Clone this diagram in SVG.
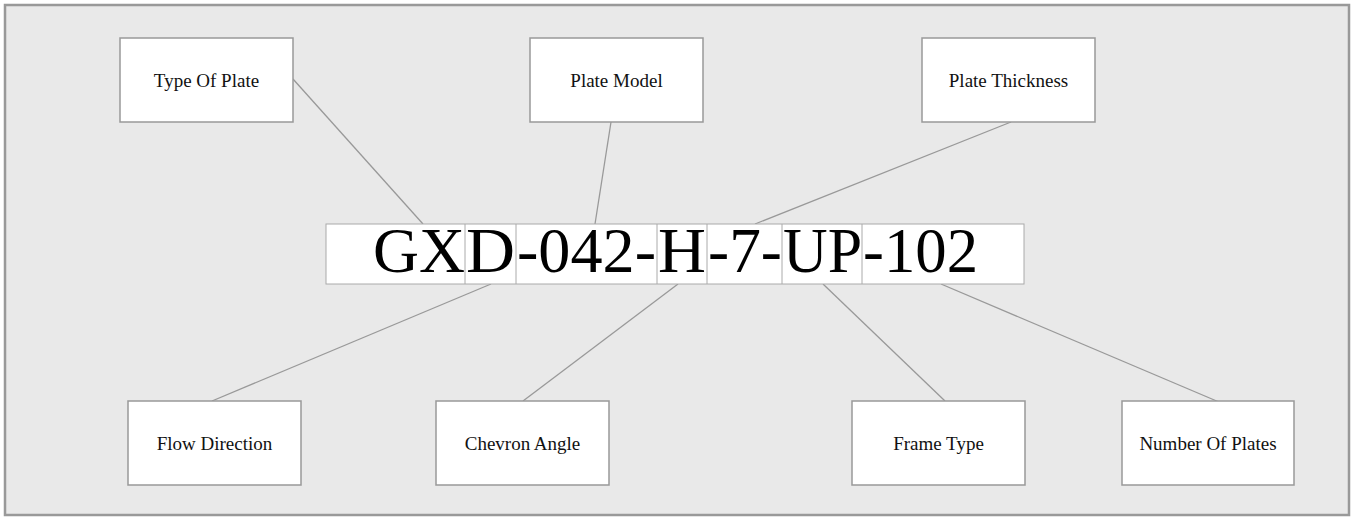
<svg xmlns="http://www.w3.org/2000/svg" width="1353" height="518" viewBox="0 0 1353 518">
<style>
.node rect{fill:#fff;stroke:#999;stroke-width:1.5}
.node text{font-family:"Liberation Serif",serif;font-size:19px;fill:#111;text-anchor:middle}
.conn line{stroke:#999;stroke-width:1.3}
.code{font-family:"Liberation Serif",serif;font-size:64px;fill:#000}
.cell{fill:#fff;stroke:#aaa;stroke-width:1}
</style>
<rect x="5" y="5" width="1344" height="510" fill="#e9e9e9" stroke="#999" stroke-width="2.5"/>
<g id="connectors" class="conn">
<line x1="293" y1="79" x2="423" y2="224"/>
<line x1="611" y1="122" x2="595" y2="224"/>
<line x1="1011" y1="122" x2="755" y2="224"/>
<line x1="212" y1="401" x2="491" y2="284"/>
<line x1="523" y1="401" x2="678" y2="284"/>
<line x1="945" y1="401" x2="823" y2="284"/>
<line x1="1219" y1="402" x2="941" y2="284"/>
</g>
<g id="code">
<rect class="cell" x="326" y="224" width="698" height="60"/>
<line x1="465" y1="224" x2="465" y2="284" stroke="#aaa"/>
<line x1="516" y1="224" x2="516" y2="284" stroke="#aaa"/>
<line x1="657" y1="224" x2="657" y2="284" stroke="#aaa"/>
<line x1="707" y1="224" x2="707" y2="284" stroke="#aaa"/>
<line x1="782" y1="224" x2="782" y2="284" stroke="#aaa"/>
<line x1="862" y1="224" x2="862" y2="284" stroke="#aaa"/>
<text class="code" x="373" y="272" textLength="92" lengthAdjust="spacingAndGlyphs">GX</text>
<text class="code" x="466" y="272" textLength="49" lengthAdjust="spacingAndGlyphs">D</text>
<text class="code" x="517" y="272" textLength="139" lengthAdjust="spacingAndGlyphs">-042-</text>
<text class="code" x="658" y="272" textLength="48" lengthAdjust="spacingAndGlyphs">H</text>
<text class="code" x="708" y="272" textLength="74" lengthAdjust="spacingAndGlyphs">-7-</text>
<text class="code" x="783" y="272" textLength="79" lengthAdjust="spacingAndGlyphs">UP</text>
<text class="code" x="863" y="272" textLength="115" lengthAdjust="spacingAndGlyphs">-102</text>
</g>
<g id="type-of-plate" class="node"><rect x="120" y="38" width="173" height="84"/><text x="206.5" y="87">Type Of Plate</text></g>
<g id="plate-model" class="node"><rect x="530" y="38" width="173" height="84"/><text x="616.5" y="87">Plate Model</text></g>
<g id="plate-thickness" class="node"><rect x="922" y="38" width="173" height="84"/><text x="1008.5" y="87">Plate Thickness</text></g>
<g id="flow-direction" class="node"><rect x="128" y="401" width="173" height="84"/><text x="214.5" y="450">Flow Direction</text></g>
<g id="chevron-angle" class="node"><rect x="436" y="401" width="173" height="84"/><text x="522.5" y="450">Chevron Angle</text></g>
<g id="frame-type" class="node"><rect x="852" y="401" width="173" height="84"/><text x="938.5" y="450">Frame Type</text></g>
<g id="number-of-plates" class="node"><rect x="1122" y="401" width="172" height="84"/><text x="1208" y="450">Number Of Plates</text></g>
</svg>
